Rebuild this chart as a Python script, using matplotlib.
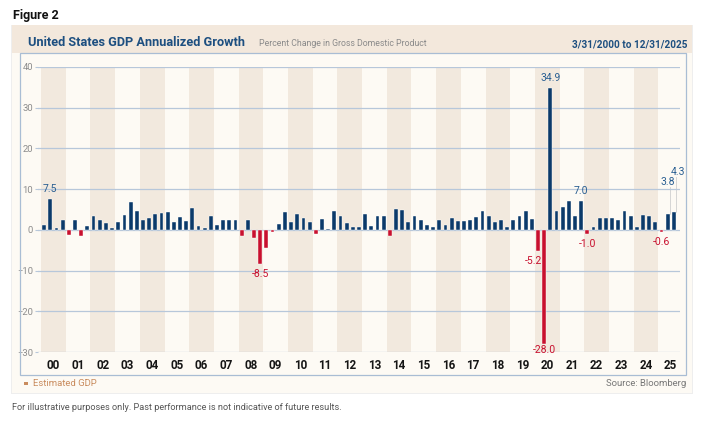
import matplotlib.pyplot as plt
from matplotlib.patches import Rectangle
import numpy as np

# quarterly annualized GDP growth, 2000Q1 .. 2025Q3
gdp_2000s = [1.1, 7.5, 0.4, 2.4,  -1.3, 2.5, -1.6, 1.0,  3.4, 2.5, 1.6, 0.5,
             2.0, 3.7, 6.8, 4.7,  2.3, 3.0, 3.8, 4.1,  4.3, 2.0, 3.2, 2.2,
             5.4, 1.0, 0.5, 3.4,  1.1, 2.4, 2.4, 2.5,  -1.6, 2.3, -2.1, -8.5,
             -4.5, -0.6, 1.4, 4.4]
gdp_2010s = [1.9, 3.9, 3.0, 2.0,  -1.0, 2.6, 0.1, 4.6,  3.4, 1.8, 0.6, 0.6,
             3.9, 1.0, 3.4, 3.4,  -1.4, 5.2, 4.9, 1.9,  3.5, 2.4, 1.3, 0.6,
             2.3, 1.3, 2.8, 2.1,  2.2, 2.5, 3.2, 4.6,  3.3, 2.0, 2.5, 0.6,
             2.4, 3.3, 4.7, 2.7]
gdp_2020s = [-5.2, -28.0, 34.9, 4.7,  5.6, 7.0, 3.3, 7.0,  -1.0, 0.6, 2.8, 2.9,
             2.8, 2.4, 4.7, 3.4,  0.8, 3.6, 3.3, 1.9,  -0.6, 3.8, 4.3]
gdp = np.array(gdp_2000s + gdp_2010s + gdp_2020s)
year_labels = ["%02d" % y for y in range(26)]

# bars that carry a value label
labeled_up = {1: "7.5", 82: "34.9", 87: "7.0"}
labeled_down = {35: "-8.5", 80: "-5.2", 81: "-28.0", 88: "-1.0", 100: "-0.6"}
leader_labels = {101: ("3.8", 11.8), 102: ("4.3", 14.3)}

W, H = 703, 428
navy = "#0b3a6a"
red = "#c8102e"
band = "#f2e9de"
cream = "#fdfaf4"
grid_c = "#b7c7da"

plt.rcParams['font.family'] = ['Roboto', 'DejaVu Sans']

fig = plt.figure(figsize=(W / 100, H / 100), dpi=100, facecolor="white")


def fx(x):
    return x / W


def fy(y):
    return 1 - y / H


# card + header
fig.patches.append(Rectangle((fx(11), fy(394)), fx(682), 369 / H, transform=fig.transFigure,
                             facecolor="#eeeeee", edgecolor="none", zorder=-3))
fig.patches.append(Rectangle((fx(12), fy(393)), fx(680), 368 / H, transform=fig.transFigure,
                             facecolor=cream, edgecolor="none", zorder=-2))
fig.patches.append(Rectangle((fx(12), fy(53)), fx(680), 28 / H, transform=fig.transFigure,
                             facecolor="#f3e8dc", edgecolor="none", zorder=-1))
fig.patches.append(Rectangle((fx(20), fy(375)), fx(666), 322 / H, transform=fig.transFigure,
                             facecolor="none", edgecolor="#a9bdd4", lw=0.9, zorder=5))

fig.text(fx(13), fy(15), "Figure 2", fontsize=9, fontweight="bold", color="#111111", va="center")
fig.text(fx(28), fy(43), "United States GDP Annualized Growth", fontsize=9.2, fontweight="bold",
         color="#1d4f80", va="center")
fig.text(fx(259), fy(44), "Percent Change in Gross Domestic Product", fontsize=6.3,
         color="#8a8a8a", va="center")
fig.text(fx(687), fy(44), "3/31/2000 to 12/31/2025", fontsize=7.2, fontweight="bold",
         color="#1d4f80", va="center", ha="right")

# legend / source / footer
fig.patches.append(Rectangle((fx(24), fy(385)), fx(3.5), 3.5 / H, transform=fig.transFigure,
                             facecolor="#c98c5e", edgecolor="none", zorder=2))
fig.text(fx(33), fy(383), "Estimated GDP", fontsize=6.8, color="#c98c5e", va="center")
fig.text(fx(686), fy(383), "Source: Bloomberg", fontsize=6.8, color="#777777", va="center", ha="right")
fig.text(fx(12), fy(408), "For illustrative purposes only. Past performance is not indicative of future results.",
         fontsize=6.6, color="#555555", va="center")

ax = fig.add_axes([fx(38), fy(352), fx(642), 285 / H])
ax.set_zorder(3)
ax.set_facecolor(cream)

for y in range(0, 26, 2):
    ax.axvspan(4 * y - 0.5, 4 * y + 3.5, color=band, lw=0, zorder=0)

ax.set_xlim(-1, 103)
ax.set_ylim(-30, 40)
ax.set_yticks(range(-30, 41, 10))
ax.grid(axis="y", color=grid_c, lw=0.9, zorder=1)
ax.set_axisbelow(False)

x = np.arange(len(gdp))
colors = [navy if v >= 0 else red for v in gdp]
ax.bar(x, gdp, width=0.62, color=colors, edgecolor="white", linewidth=0.3, zorder=3)

for i, t in labeled_up.items():
    ax.text(i, gdp[i] + 1.2, t, ha="center", va="bottom", fontsize=7.5, color="#2a5f92", zorder=4)
for i, t in labeled_down.items():
    if i == 81:
        ax.text(i, -29.6, t, ha="center", va="center", fontsize=7.5, color=red, zorder=4)
    elif i == 80:
        ax.text(i - 0.8, gdp[i] - 1.2, t, ha="center", va="top", fontsize=7.5, color=red, zorder=4)
    else:
        ax.text(i, gdp[i] - 1.2, t, ha="center", va="top", fontsize=7.5, color=red, zorder=4)
for i, (t, ly) in leader_labels.items():
    ax.plot([i + 0.3, i + 0.3], [gdp[i], ly - 1.3], color="#cfcfcf", lw=0.6, zorder=2)
    ax.text(i + (0.6 if i == 102 else 0), ly, t, ha="center", va="center", fontsize=7.5,
            color="#2a5f92", zorder=4)

ax.set_xticks([4 * y + 1.5 for y in range(26)])
ax.set_xticklabels(year_labels, fontsize=8.4, fontweight="bold", color="#151515")
ax.tick_params(axis="x", length=0, pad=5)
ax.tick_params(axis="y", length=2.5, width=0.8, color=grid_c, labelsize=6.8, labelcolor="#8c8c8c", pad=1)
for s in ax.spines.values():
    s.set_visible(False)

fig.savefig("out.png", dpi=100, facecolor="white")
